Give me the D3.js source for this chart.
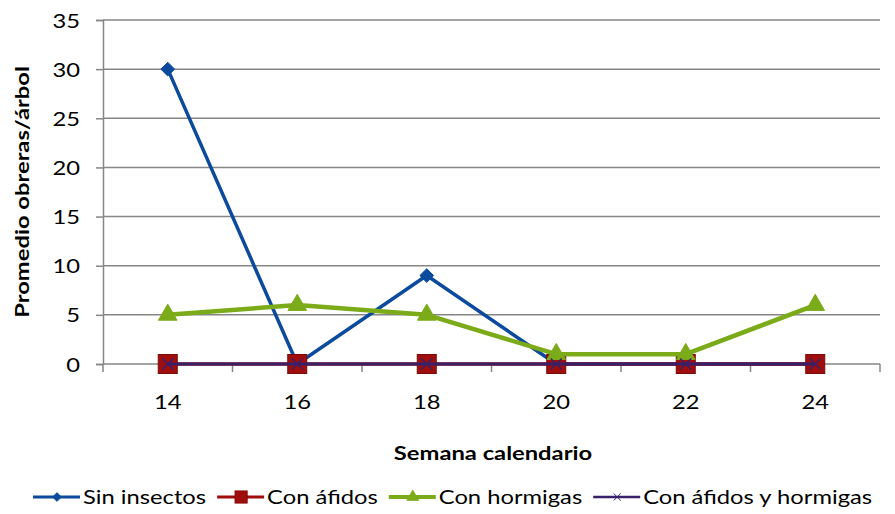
<!DOCTYPE html>
<html>
<head>
<meta charset="utf-8">
<script src="https://cdn.jsdelivr.net/npm/d3@7"></script>
<style>
  body { margin: 0; background: #fff; }
  svg text { font-family: Lato, "Open Sans", sans-serif; fill: #000; }
</style>
</head>
<body>
<div id="chart"></div>
<script>
// data
const weeks = ["14", "16", "18", "20", "22", "24"];
const sinInsectos = [30, 0, 9, 0, 0, 0];
const conAfidos = [0, 0, 0, 0, 0, 0];
const conHormigas = [5, 6, 5, 1, 1, 6];
const conAfidosHormigas = [0, 0, 0, 0, 0, 0];
const yTicks = [0, 5, 10, 15, 20, 25, 30, 35];

const series = [
  { name: "Sin insectos", values: sinInsectos, color: "#0b4a9c", width: 3.5, marker: "diamond" },
  { name: "Con áfidos", values: conAfidos, color: "#a00d0d", width: 3.5, marker: "square" },
  { name: "Con hormigas", values: conHormigas, color: "#7bab19", width: 4.5, marker: "triangle" },
  { name: "Con áfidos y hormigas", values: conAfidosHormigas, color: "#36216a", width: 3, marker: "cross" }
];

const W = 895, H = 514;
const margin = { top: 20, right: 15, bottom: 150, left: 103 };
const width = 880 - margin.left;
const height = 364 - margin.top;
const stretch = 1.25; // text in the picture is wide

const svg = d3.select("#chart").append("svg")
  .attr("width", W)
  .attr("height", H);

// put a text at (px,py), widened like the original
function place(sel, px, py, rot) {
  sel.attr("x", 0).attr("y", 0)
    .attr("transform", `translate(${px},${py})${rot ? ` rotate(${rot})` : ""} scale(${stretch},1)`);
  return sel;
}

const g = svg.append("g")
  .attr("transform", `translate(${margin.left},${margin.top})`);

const x = d3.scaleBand().domain(weeks).range([0, width]);
const y = d3.scaleLinear().domain([0, 35]).range([height, 0]);

// gridlines
g.append("g")
  .selectAll("line")
  .data(yTicks.filter(d => d > 0))
  .enter().append("line")
  .attr("x1", 0).attr("x2", width)
  .attr("y1", d => y(d)).attr("y2", d => y(d))
  .attr("stroke", "#868686").attr("stroke-width", 1.5);

// y axis
const yAxis = g.append("g")
  .call(d3.axisLeft(y).tickValues(yTicks).tickSize(7).tickPadding(16));
yAxis.select(".domain").attr("stroke", "#868686").attr("stroke-width", 1.5);
yAxis.selectAll(".tick line").attr("stroke", "#868686").attr("stroke-width", 1.5);
yAxis.attr("font-family", null).attr("font-size", null);
yAxis.selectAll(".tick text")
  .style("font-size", "19px")
  .attr("dy", null)
  .attr("x", 0)
  .attr("transform", `translate(-23,7) scale(${stretch},1)`);

// x axis: ticks between categories, labels centered
const xAxis = g.append("g").attr("transform", `translate(0,${height})`);
xAxis.append("line")
  .attr("x1", 0).attr("x2", width)
  .attr("stroke", "#868686").attr("stroke-width", 1.5);
xAxis.selectAll(".tk")
  .data(d3.range(weeks.length + 1))
  .enter().append("line")
  .attr("x1", i => i * x.step()).attr("x2", i => i * x.step())
  .attr("y1", 0).attr("y2", 8)
  .attr("stroke", "#868686").attr("stroke-width", 1.5);
xAxis.selectAll(".lbl")
  .data(weeks)
  .enter().append("text")
  .attr("text-anchor", "middle")
  .style("font-size", "19px")
  .text(d => d)
  .each(function (d) { place(d3.select(this), x(d) + x.bandwidth() / 2, 45); });

// axis titles
svg.append("text")
  .attr("text-anchor", "middle")
  .style("font-size", "19px").style("font-weight", "bold")
  .text("Semana calendario")
  .call(place, 493, 460);

svg.append("text")
  .attr("text-anchor", "middle")
  .style("font-size", "19px").style("font-weight", "bold")
  .text("Promedio obreras/árbol")
  .call(place, 29, 192, -90);

function drawMarker(sel, type, color) {
  if (type === "diamond") {
    sel.append("path").attr("d", d3.symbol(d3.symbolDiamond2, 120)())
      .attr("fill", color).attr("stroke", color).attr("stroke-width", 1);
  } else if (type === "square") {
    sel.append("rect").attr("x", -9.5).attr("y", -9.5).attr("width", 19).attr("height", 19)
      .attr("fill", color).attr("stroke", "#7a0a0a").attr("stroke-width", 1);
  } else if (type === "triangle") {
    sel.append("path").attr("d", d3.symbol(d3.symbolTriangle, 150)())
      .attr("fill", color).attr("stroke", color).attr("stroke-width", 1);
  } else {
    sel.append("path").attr("d", d3.symbol(d3.symbolTimes, 80)())
      .attr("fill", "none").attr("stroke", color).attr("stroke-width", 1.5);
  }
}

const line = d3.line()
  .x((d, i) => x(weeks[i]) + x.bandwidth() / 2)
  .y(d => y(d));

series.forEach(s => {
  g.append("path")
    .datum(s.values)
    .attr("fill", "none")
    .attr("stroke", s.color)
    .attr("stroke-width", s.width)
    .attr("stroke-linejoin", "round")
    .attr("d", line);
  s.values.forEach((v, i) => {
    const m = g.append("g")
      .attr("transform", `translate(${x(weeks[i]) + x.bandwidth() / 2},${y(v)})`);
    drawMarker(m, s.marker, s.color);
  });
});

// legend
const legend = svg.append("g").attr("transform", "translate(33,497)");
let lx = 0;
series.forEach(s => {
  const item = legend.append("g").attr("transform", `translate(${lx},0)`);
  item.append("line")
    .attr("x1", 0).attr("x2", 47)
    .attr("stroke", s.color).attr("stroke-width", s.width - 0.5);
  const m = item.append("g").attr("transform", "translate(24,0) scale(0.65)");
  drawMarker(m, s.marker, s.color);
  const t = item.append("text")
    .style("font-size", "19px")
    .text(s.name)
    .call(place, 50, 7);
  lx += 50 + t.node().getComputedTextLength() * stretch + 11;
});
</script>
</body>
</html>
